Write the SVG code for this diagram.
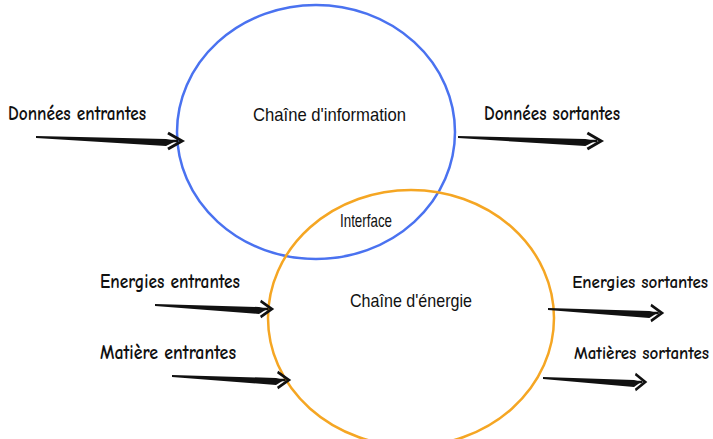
<svg xmlns="http://www.w3.org/2000/svg" width="713" height="439" viewBox="0 0 713 439">
<defs>
<style>
.lbl{font-family:"Comic Neue","Liberation Sans",sans-serif;font-size:21px;font-weight:bold;fill:#111;}
.lbs{font-family:"Comic Neue","Liberation Sans",sans-serif;font-size:17px;font-weight:bold;fill:#111;}
.ttl{font-family:"Liberation Sans",sans-serif;font-size:19px;fill:#111;}
.body{fill:#111;}
.head{fill:none;stroke:#111;stroke-width:3;stroke-linejoin:miter;}
</style>
<g id="arrow">
<polygon class="body" points="0,0 130,3 140,5 130,10 0,2"/>
<polyline class="head" points="132,-3 146,5 132,13"/>
<line x1="120" y1="5" x2="142" y2="5" stroke="#111" stroke-width="2.5"/>
</g>
</defs>
<rect width="713" height="439" fill="#fff"/>
<g id="chaine-information">
<ellipse cx="316" cy="132" rx="139" ry="127" fill="none" stroke="#4a72f0" stroke-width="2.5"/>
<text class="ttl" x="253" y="121" textLength="153" lengthAdjust="spacingAndGlyphs">Chaîne d'information</text>
</g>
<g id="chaine-energie">
<ellipse cx="411" cy="318" rx="143" ry="128" fill="none" stroke="#f5a623" stroke-width="2.5"/>
<text class="ttl" x="350" y="307" textLength="122" lengthAdjust="spacingAndGlyphs">Chaîne d'énergie</text>
</g>
<g id="interface">
<text class="ttl" x="340" y="227" font-size="13" textLength="52" lengthAdjust="spacingAndGlyphs">Interface</text>
</g>
<g id="labels">
<text class="lbl" x="8" y="120" textLength="138" lengthAdjust="spacingAndGlyphs">Données entrantes</text>
<text class="lbl" x="484" y="120" textLength="136" lengthAdjust="spacingAndGlyphs">Données sortantes</text>
<text class="lbl" x="100" y="288" textLength="140" lengthAdjust="spacingAndGlyphs">Energies entrantes</text>
<text class="lbl" x="100" y="359" textLength="136" lengthAdjust="spacingAndGlyphs">Matière entrantes</text>
<text class="lbs" x="708" y="288" text-anchor="end">Energies sortantes</text>
<text class="lbs" x="709" y="359" text-anchor="end">Matières sortantes</text>
</g>
<g id="connectors">
<use href="#arrow" transform="translate(36,136)"/>
<use href="#arrow" transform="translate(458,136) scale(0.98,1)"/>
<use href="#arrow" transform="translate(155,304) scale(0.8,1)"/>
<use href="#arrow" transform="translate(172,375) scale(0.8,1)"/>
<use href="#arrow" transform="translate(548,308) scale(0.78,1)"/>
<use href="#arrow" transform="translate(543,377) scale(0.7,1)"/>
</g>
</svg>
